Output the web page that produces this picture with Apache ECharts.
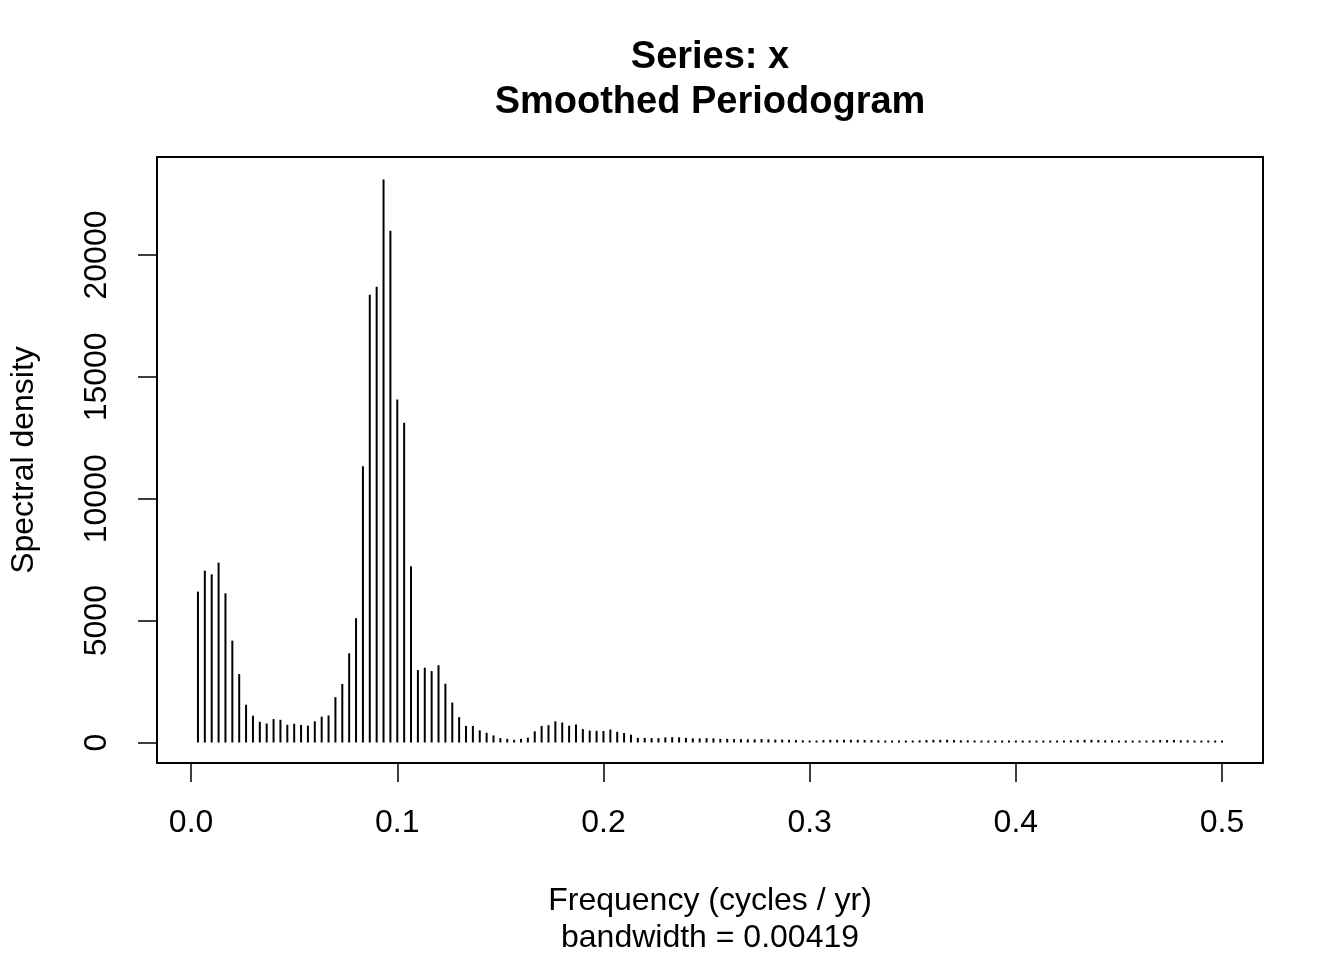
<!DOCTYPE html>
<html>
<head>
<meta charset="utf-8">
<title>Smoothed Periodogram</title>
<script src="https://cdn.jsdelivr.net/npm/echarts@6/dist/echarts.min.js"></script>
<style>
    html, body { margin: 0; padding: 0; background: #ffffff; }
    #main { width: 1344px; height: 960px; }
</style>
</head>
<body>
<div id="main"></div>

<script>
    // spectral density, one value per Fourier frequency k / 300 (k = 1..150)
    var density = [
        6190, 7050, 6900, 7380, 6120, 4180, 2810, 1550, 1100, 850,
        780, 960, 930, 730, 770, 720, 690, 870, 1060, 1110,
        1860, 2400, 3660, 5100, 11330, 18370, 18700, 23100, 21000, 14070,
        13120, 7230, 2970, 3070, 2930, 3170, 2410, 1640, 1040, 680,
        680, 500, 400, 290, 180, 150, 110, 150, 200, 460,
        680, 710, 870, 820, 690, 740, 550, 490, 480, 470,
        530, 440, 390, 320, 190, 190, 180, 180, 210, 220,
        210, 190, 170, 170, 180, 170, 150, 150, 140, 140,
        130, 130, 140, 130, 120, 120, 110, 100, 90, 80,
        80, 100, 110, 110, 110, 110, 110, 100, 100, 90,
        80, 80, 80, 80, 80, 90, 100, 110, 110, 110,
        100, 90, 90, 80, 80, 80, 80, 80, 80, 80,
        80, 80, 80, 80, 80, 80, 80, 90, 100, 110,
        110, 100, 90, 90, 80, 80, 80, 80, 80, 90,
        100, 100, 100, 90, 90, 80, 80, 80, 80, 80
    ];
    var seriesLength = 300;   // padded length, frequencies are k / 300
    var xTicks = [0, 0.1, 0.2, 0.3, 0.4, 0.5];
    var yTicks = [0, 5000, 10000, 15000, 20000];
    var titleLines = ['Series: x', 'Smoothed Periodogram'];
    var xTitle = 'Frequency (cycles / yr)';
    var subTitle = 'bandwidth = 0.00419';
    var yTitle = 'Spectral density';

    var FONT = '"Liberation Sans", Arial, Helvetica, sans-serif';

    var points = [];
    for (var i = 0; i < density.length; ++i) {
        points.push([(i + 1) / seriesLength, density[i]]);
    }

    // R style axis range: data range stretched by 4% each side
    var xLo = points[0][0], xHi = points[points.length - 1][0];
    var yLo = Math.min.apply(null, density), yHi = Math.max.apply(null, density);
    var xPad = (xHi - xLo) * 0.04, yPad = (yHi - yLo) * 0.04;

    option = {
        animation: false,
        backgroundColor: '#ffffff',
        textStyle: { fontFamily: FONT, color: '#000' },
        grid: {
            left: 157, top: 157, width: 1106, height: 606,
            show: true, borderColor: '#000', borderWidth: 2
        },
        xAxis: {
            type: 'value',
            min: xLo - xPad,
            max: xHi + xPad,
            axisLine: { show: false, onZero: false },
            splitLine: { show: false },
            axisTick: {
                show: true, customValues: xTicks, length: 19, inside: false,
                lineStyle: { color: '#000', width: 1.5 }
            },
            axisLabel: {
                show: true, customValues: xTicks, margin: 44,
                fontSize: 32, fontFamily: FONT, color: '#000',
                formatter: function (v) { return v.toFixed(1); }
            }
        },
        yAxis: {
            type: 'value',
            min: yLo - yPad,
            max: yHi + yPad,
            axisLine: { show: false, onZero: false },
            splitLine: { show: false },
            axisTick: {
                show: true, customValues: yTicks, length: 19, inside: false,
                lineStyle: { color: '#000', width: 1.5 }
            },
            axisLabel: {
                show: true, customValues: yTicks, margin: 44, rotate: 90,
                fontSize: 32, fontFamily: FONT, color: '#000',
                formatter: function (v) { return String(v); }
            }
        },
        series: [
            {
                type: 'bar',
                data: points,
                barWidth: 2,
                itemStyle: { color: '#000' },
                silent: true
            }
        ],
        graphic: [
            {
                type: 'text', x: 710, y: 58,
                style: { text: titleLines[0], font: 'bold 38px ' + FONT, fill: '#000', textAlign: 'center', textVerticalAlign: 'middle' }
            },
            {
                type: 'text', x: 710, y: 103,
                style: { text: titleLines[1], font: 'bold 38px ' + FONT, fill: '#000', textAlign: 'center', textVerticalAlign: 'middle' }
            },
            {
                type: 'text', x: 710, y: 901,
                style: { text: xTitle, font: '32px ' + FONT, fill: '#000', textAlign: 'center', textVerticalAlign: 'middle' }
            },
            {
                type: 'text', x: 710, y: 938,
                style: { text: subTitle, font: '32px ' + FONT, fill: '#000', textAlign: 'center', textVerticalAlign: 'middle' }
            },
            {
                type: 'text', x: 24, y: 460, rotation: Math.PI / 2,
                style: { text: yTitle, font: '32px ' + FONT, fill: '#000', textAlign: 'center', textVerticalAlign: 'middle' }
            }
        ]
    };

    var myChart = echarts.init(document.getElementById('main'));
    myChart.setOption(option);
</script>
</body>
</html>
